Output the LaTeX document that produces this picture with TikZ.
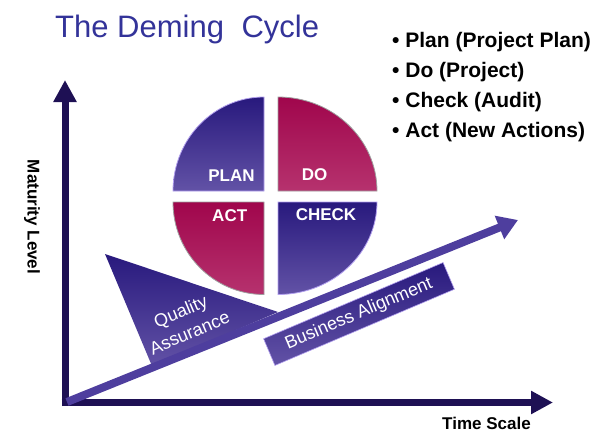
\documentclass[tikz,border=0pt]{standalone}
\usepackage{fontspec}
\setmainfont{Liberation Sans}
\usetikzlibrary{arrows.meta,positioning,calc}
\definecolor{demblue}{RGB}{51,51,153}
\definecolor{axnavy}{RGB}{30,16,84}
\definecolor{qbluetop}{RGB}{40,25,125}
\definecolor{qbluebot}{RGB}{98,82,166}
\definecolor{qredtop}{RGB}{160,6,76}
\definecolor{qredbot}{RGB}{182,50,110}
\definecolor{qedge}{RGB}{178,160,238}
\definecolor{riseclr}{RGB}{78,62,158}
\tikzset{
  axarr/.style={-{Triangle[length=22pt,width=22pt]}, axnavy, line width=7pt},
  risearr/.style={-{Triangle[length=20pt,width=24pt]}, riseclr, line width=8pt},
  qblue/.style={top color=qbluetop, bottom color=qbluebot, draw=qedge, line width=0.8pt},
  qred/.style={top color=qredtop, bottom color=qredbot, draw=gray!75, line width=0.8pt},
  qlab/.style={font=\fontsize{17}{20}\selectfont\bfseries, text=white, inner sep=0pt},
  ttl/.style={font=\fontsize{31}{36}\selectfont, text=demblue, inner sep=0pt, anchor=base west},
  bul/.style={font=\fontsize{21}{24}\selectfont\bfseries, inner sep=0pt, anchor=base west},
  axlab/.style={font=\fontsize{17}{20}\selectfont\bfseries, inner sep=0pt},
  slant/.style={font=\fontsize{18}{23}\selectfont, text=white, rotate=23, align=center, inner sep=0pt},
  bizbox/.style={slant, top color=qbluetop, bottom color=qbluebot, draw=qedge, line width=0.6pt,
                 minimum width=195pt, minimum height=29pt},
}
\begin{document}
\begin{tikzpicture}[x=1pt, y=-1pt]
  \useasboundingbox (0,0) rectangle (611,442);
  % heading and list
  \node[ttl] (title) at (55,37) {The Deming\hspace{9pt} Cycle};
  \node[bul] (itemplan) at (392,47) {• Plan (Project Plan)};
  \node[bul] (itemdo) at (392,77) {• Do (Project)};
  \node[bul] (itemcheck) at (392,107) {• Check (Audit)};
  \node[bul] (itemact) at (392,137) {• Act (New Actions)};

  % axes
  \coordinate (yfoot) at (65,406);
  \coordinate (ytip) at (65,80);
  \coordinate (xfoot) at (61.5,402.5);
  \coordinate (xtip) at (553,402.5);
  \draw[axarr] (yfoot) -- (ytip);
  \draw[axarr] (xfoot) -- (xtip);
  \node[axlab, rotate=-90] (maturity) at (32,217) {Maturity Level};
  \node[axlab, anchor=base west] (timescale) at (442,429) {Time Scale};

  % quality wedge and alignment bar
  \shade[top color=qbluetop, bottom color=qbluebot] (105,254) -- (278,312) -- (152,366) -- cycle;
  \node[slant] (quality) at (185,322) {Quality\\Assurance};
  \node[bizbox] (bizalign) at (359,314) {Business Alignment};
  \coordinate (risefoot) at (67,402);
  \coordinate (risetip) at (518,220);
  \draw[risearr] (risefoot) -- (risetip);

  % PDCA wheel
  \draw[qblue] (264,191) -- (173,191) arc[start angle=180, end angle=270, x radius=91, y radius=94] -- cycle;
  \draw[qred] (278,191) -- (278,97) arc[start angle=270, end angle=360, x radius=99, y radius=94] -- cycle;
  \draw[qred] (264,202) -- (173,202) arc[start angle=180, end angle=90, x radius=91, y radius=92.5] -- cycle;
  \draw[qblue] (278,202) -- (377,202) arc[start angle=0, end angle=90, x radius=99, y radius=92.5] -- cycle;
  \node[qlab] (plan) at (231.5,176) {PLAN};
  \node[qlab] (do) at (314.5,175) {DO};
  \node[qlab] (act) at (229.7,215.3) {ACT};
  \node[qlab] (check) at (326,215) {CHECK};
\end{tikzpicture}
\end{document}
